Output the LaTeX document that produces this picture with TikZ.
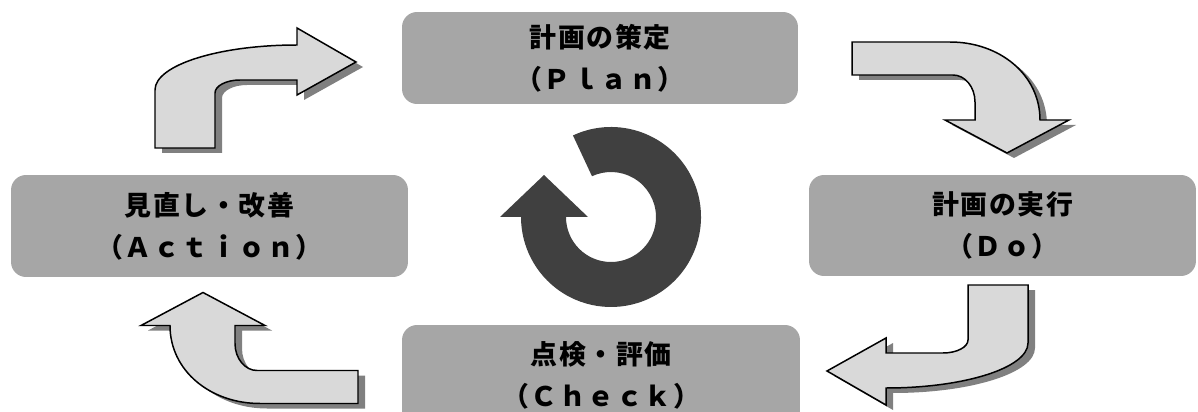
\documentclass[tikz,border=0pt]{standalone}
\usepackage{fontspec}
\newfontfamily\jpfont{Noto Sans CJK JP}[LetterSpace=6]

\definecolor{boxgray}{HTML}{A6A6A6}
\definecolor{arrowgray}{HTML}{D9D9D9}
\definecolor{shadowgray}{HTML}{808080}
\definecolor{ringgray}{HTML}{404040}

% Flèches coudées
\newcommand\bentApath{%
(155,148) -- (155,90)
.. controls (155,65) and (219,45) .. (297,45)
-- (297,28) -- (356,62) -- (297,95) -- (297,80)
-- (240,80)
.. controls (226,80) and (215,86) .. (215,93)
-- (215,148) -- cycle}

\newcommand\bentBpath{%
(852,42) -- (950,42)
.. controls (1000,42) and (1040,75) .. (1040,120)
-- (1069,120) -- (1007,153) -- (945,120) -- (975,120)
-- (975,102)
.. controls (975,87) and (965,75) .. (953,75)
-- (852,75) -- cycle}

\begin{document}
\begin{tikzpicture}[x=0.02cm,y=-0.02cm,
etape/.style={fill=boxgray,rounded corners=0.3cm,align=center,inner sep=0pt,
font=\jpfont\bfseries\fontsize{15.3pt}{23.8pt}\selectfont},
ombre/.style={fill=shadowgray},
fleche/.style={fill=arrowgray,draw=black,line width=0.85pt}]

\useasboundingbox
(0,0)
rectangle
(1198,412);

% Étapes
\node[etape,minimum width=7.92cm,minimum height=1.84cm]
(plan) at (600,58)
{計画の策定\\（Ｐｌａｎ）};

\node[etape,minimum width=7.74cm,minimum height=2.02cm]
(do) at (1002.5,225.5)
{計画の実行\\（Ｄｏ）};

\node[etape,minimum width=7.96cm,minimum height=2cm]
(check) at (601,375)
{点検・評価\\（Ｃｈｅｃｋ）};

\node[etape,minimum width=7.94cm,minimum height=2.04cm]
(action) at (209.5,226)
{見直し・改善\\（Ａｃｔｉｏｎ）};

% Flèches
\fill[ombre,shift={(7,5)}]
\bentApath;
\draw[fleche]
\bentApath;

\fill[ombre,shift={(7,5)}]
\bentBpath;
\draw[fleche]
\bentBpath;

\fill[ombre,shift={(7,5)},rotate around={180:(591.5,216.5)}]
\bentApath;
\draw[fleche,rotate around={180:(591.5,216.5)}]
\bentApath;

\fill[ombre,shift={(7,5)},rotate around={180:(605,222.75)}]
\bentBpath;
\draw[fleche,rotate around={180:(605,222.75)}]
\bentBpath;

% Cycle
\fill[ringgray]
(611,217) ++(-115:90)
arc[start angle=-115,end angle=180,radius=90]
-- (500,217)
-- (544,175)
-- (588,217)
-- (566,217)
arc[start angle=180,end angle=-115,radius=45]
-- cycle;

\end{tikzpicture}
\end{document}
